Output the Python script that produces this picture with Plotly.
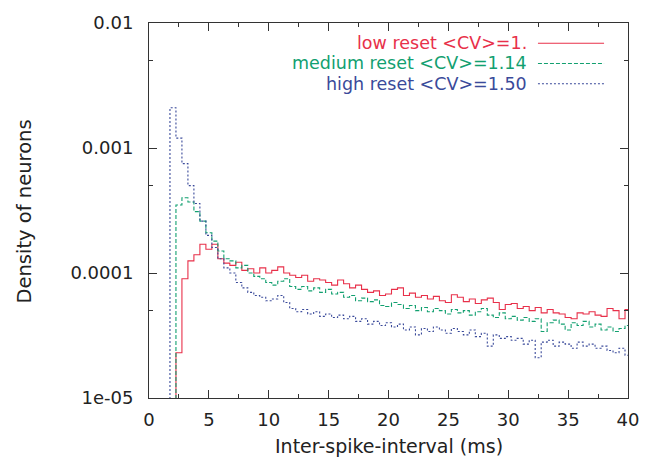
import plotly.graph_objects as go

# bin centres of the inter-spike-interval histogram (ms)
isi_ms = [i / 2 for i in range(3, 81)]  # 1.5 .. 40.0

# density values (1e-7 = empty bin, below the axis)
low_reset = [
    1e-7, 1e-7, 2.3e-5, 9.0e-5, 1.25e-4, 1.4e-4, 1.7e-4, 1.55e-4, 1.7e-4, 1.3e-4,
    1.2e-4, 1.15e-4, 1.22e-4, 1.05e-4, 1.08e-4, 1.0e-4, 1.1e-4, 1.0e-4, 1.05e-4, 1.12e-4,
    1.0e-4, 9.6e-5, 9.2e-5, 9.6e-5, 8.6e-5, 9.0e-5, 8.8e-5, 8.4e-5, 8.0e-5, 8.8e-5,
    8.2e-5, 7.6e-5, 8.0e-5, 7.4e-5, 7.0e-5, 7.2e-5, 6.6e-5, 6.8e-5, 7.4e-5, 7.6e-5,
    6.6e-5, 6.9e-5, 6.4e-5, 6.6e-5, 6.2e-5, 6.5e-5, 6.0e-5, 5.8e-5, 6.7e-5, 6.4e-5,
    5.9e-5, 6.2e-5, 5.7e-5, 6.1e-5, 6.3e-5, 5.8e-5, 5.1e-5, 5.6e-5, 5.7e-5, 5.2e-5,
    5.4e-5, 5.0e-5, 5.3e-5, 4.8e-5, 5.1e-5, 4.8e-5, 4.7e-5, 4.4e-5, 4.3e-5, 4.8e-5,
    4.7e-5, 4.9e-5, 4.6e-5, 4.5e-5, 5.2e-5, 5.0e-5, 4.3e-5, 5.1e-5,
]
medium_reset = [
    1e-7, 1e-7, 3.5e-4, 4.0e-4, 3.7e-4, 3.1e-4, 2.6e-4, 2.1e-4, 1.8e-4, 1.5e-4,
    1.3e-4, 1.25e-4, 1.1e-4, 1.15e-4, 1.0e-4, 9.4e-5, 9.0e-5, 8.4e-5, 8.0e-5, 8.6e-5,
    9.0e-5, 7.8e-5, 7.4e-5, 7.8e-5, 7.2e-5, 7.6e-5, 7.0e-5, 7.4e-5, 6.8e-5, 7.0e-5,
    6.4e-5, 6.6e-5, 6.0e-5, 6.3e-5, 5.9e-5, 6.1e-5, 5.5e-5, 5.4e-5, 5.8e-5, 5.6e-5,
    5.2e-5, 5.5e-5, 5.0e-5, 5.3e-5, 4.9e-5, 5.2e-5, 5.0e-5, 4.7e-5, 5.1e-5, 4.8e-5,
    5.0e-5, 4.6e-5, 4.9e-5, 5.2e-5, 4.6e-5, 4.4e-5, 4.8e-5, 4.3e-5, 4.5e-5, 4.2e-5,
    4.4e-5, 4.1e-5, 4.3e-5, 3.4e-5, 4.0e-5, 4.2e-5, 3.9e-5, 3.5e-5, 4.0e-5, 3.8e-5,
    4.1e-5, 3.7e-5, 3.9e-5, 3.5e-5, 3.7e-5, 3.4e-5, 3.6e-5, 3.8e-5,
]
high_reset = [
    1e-7, 2.1e-3, 1.2e-3, 7.5e-4, 5.0e-4, 3.6e-4, 2.6e-4, 2.0e-4, 1.6e-4, 1.3e-4,
    1.1e-4, 1.0e-4, 8.4e-5, 7.6e-5, 7.0e-5, 6.6e-5, 6.4e-5, 6.0e-5, 6.2e-5, 6.6e-5,
    5.8e-5, 5.2e-5, 4.9e-5, 5.1e-5, 4.7e-5, 4.9e-5, 4.5e-5, 4.7e-5, 4.4e-5, 4.6e-5,
    4.3e-5, 4.5e-5, 4.1e-5, 4.3e-5, 3.9e-5, 4.1e-5, 3.8e-5, 4.0e-5, 3.7e-5, 3.9e-5,
    3.5e-5, 3.7e-5, 3.2e-5, 3.6e-5, 3.4e-5, 3.7e-5, 3.5e-5, 3.3e-5, 3.6e-5, 3.4e-5,
    3.2e-5, 3.5e-5, 3.1e-5, 3.3e-5, 2.6e-5, 3.2e-5, 3.0e-5, 3.1e-5, 2.9e-5, 3.0e-5,
    2.7e-5, 2.9e-5, 2.1e-5, 2.8e-5, 2.9e-5, 2.6e-5, 2.8e-5, 2.7e-5, 2.5e-5, 2.8e-5,
    2.6e-5, 2.7e-5, 2.5e-5, 2.6e-5, 2.4e-5, 2.3e-5, 2.5e-5, 2.2e-5,
]

series_names = ["low reset &lt;CV&gt;=1.", "medium reset &lt;CV&gt;=1.14", "high reset &lt;CV&gt;=1.50"]
colors = ["#e8304a", "#12a070", "#3a4a9a"]
dashes = ["solid", "4px,2px", "2px,2px"]

y_tickvals = [1e-5, 1e-4, 1e-3, 1e-2]
y_ticktext = ["1e-05", "0.0001", "0.001", "0.01"]
y_minor = [5e-5, 5e-4, 5e-3]
x_tickvals = [0, 5, 10, 15, 20, 25, 30, 35, 40]

FONT = "DejaVu Sans, Verdana, sans-serif"
TEXT = "#222"

fig = go.Figure()
for ys, c, d in zip([low_reset, medium_reset, high_reset], colors, dashes):
    fig.add_trace(go.Scatter(x=isi_ms, y=ys, mode="lines", line_shape="hvh",
                             line=dict(color=c, width=1.1, dash=d), showlegend=False))

fig.update_layout(
    width=651, height=466,
    margin=dict(l=149, r=18, t=19, b=68),
    paper_bgcolor="white", plot_bgcolor="white",
    font=dict(family=FONT, size=18, color=TEXT),
    showlegend=False,
)
fig.update_xaxes(
    range=[0, 40], tickvals=x_tickvals, ticks="inside", ticklen=8, tickwidth=1,
    tickcolor="#333", showline=True, linecolor="#333", linewidth=1, mirror="allticks",
    showgrid=False, zeroline=False, ticklabelstandoff=5,
    minor=dict(ticks="inside", ticklen=4, dtick=2.5, tick0=0, tickcolor="#333", showgrid=False),
)
fig.update_yaxes(
    type="log", range=[-5, -2], tickvals=y_tickvals, ticktext=y_ticktext,
    ticks="inside", ticklen=8, tickwidth=1, tickcolor="#333",
    showline=True, linecolor="#333", linewidth=1, mirror="allticks",
    showgrid=False, zeroline=False, ticklabelstandoff=11,
    minor=dict(ticks="inside", ticklen=4, tickvals=y_minor, tickcolor="#333", showgrid=False),
)

# axis titles
fig.add_annotation(text="Inter-spike-interval (ms)", xref="paper", yref="paper",
                   x=0.502, y=-0.129, xanchor="center", yanchor="middle", showarrow=False,
                   font=dict(family=FONT, size=19, color=TEXT))
fig.add_annotation(text="Density of neurons", xref="paper", yref="paper",
                   x=-0.262, y=0.496, xanchor="center", yanchor="middle", textangle=-90,
                   showarrow=False, font=dict(family=FONT, size=19.5, color=TEXT))

# gnuplot-style legend (text right-aligned, sample line to the right)
legend_rows = [0.946, 0.892, 0.838]
for name, c, d, yy in zip(series_names, colors, dashes, legend_rows):
    fig.add_annotation(text=name, xref="paper", yref="paper", x=0.793, y=yy,
                       xanchor="right", yanchor="middle", showarrow=False,
                       font=dict(family=FONT, size=17.5, color=c))
    fig.add_shape(type="line", xref="paper", yref="paper", x0=0.812, x1=0.950, y0=yy, y1=yy,
                  line=dict(color=c, width=1.1, dash=d))

fig.write_html("out.html")
